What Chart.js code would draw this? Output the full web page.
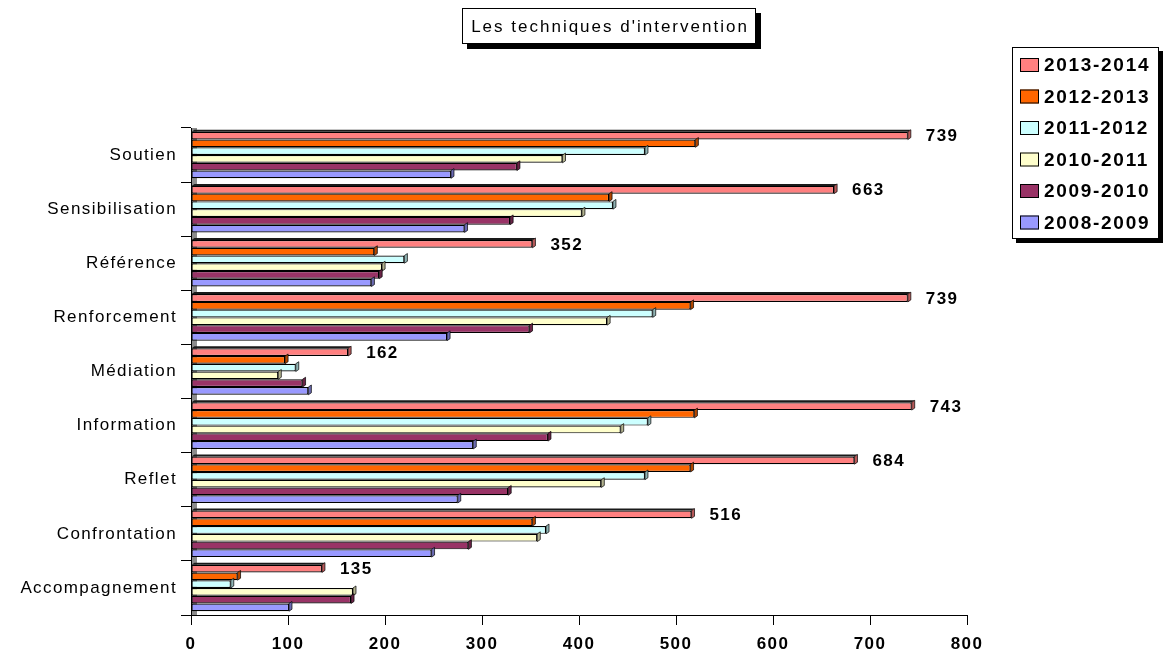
<!DOCTYPE html>
<html>
<head>
<meta charset="utf-8">
<title>Les techniques d'intervention</title>
<script src="https://cdn.jsdelivr.net/npm/chart.js@4.4.1/dist/chart.umd.min.js"></script>
<style>
  html, body { margin: 0; padding: 0; background: #ffffff; }
  #wrap { width: 1163px; height: 654px; }
</style>
</head>
<body>
<div id="wrap"><canvas id="chart" width="1163" height="654"></canvas></div>
<script>
// Data
var chartTitle = "Les techniques d'intervention";
var categories = ['Soutien', 'Sensibilisation', 'Référence', 'Renforcement', 'Médiation',
                  'Information', 'Reflet', 'Confrontation', 'Accompagnement'];
var seasons = ['2013-2014', '2012-2013', '2011-2012', '2010-2011', '2009-2010', '2008-2009'];
var v2013 = [739, 663, 352, 739, 162, 743, 684, 516, 135];
var v2012 = [520, 431, 189, 515, 97, 519, 515, 352, 48];
var v2011 = [468, 435, 220, 476, 108, 471, 468, 366, 41];
var v2010 = [383, 403, 197, 429, 90, 443, 423, 357, 167];
var v2009 = [336, 329, 194, 349, 115, 368, 327, 286, 165];
var v2008 = [268, 282, 186, 264, 121, 291, 275, 248, 101];
var xTicks = [0, 100, 200, 300, 400, 500, 600, 700, 800];

(function () {
  'use strict';

  var font = "'Liberation Sans', Arial, sans-serif";
  var fills = ['#ff8080', '#ff6600', '#ccffff', '#ffffcc', '#993366', '#9999ff'];
  var sides = ['#b85a5a', '#b34700', '#8fb3b3', '#b3b38f', '#6b2447', '#6b6bb3'];
  var series = [v2013, v2012, v2011, v2010, v2009, v2008];

  var datasets = series.map(function (vals, i) {
    return {
      label: seasons[i],
      data: vals,
      backgroundColor: fills[i],
      borderColor: '#000000',
      borderWidth: 1.2,
      borderSkipped: false,
      categoryPercentage: 0.86,
      barPercentage: 1
    };
  });

  // canvas resets on resize, so put the spacing back before layout and draw
  var spacing = {
    id: 'spacing',
    beforeUpdate: function (c) { c.ctx.letterSpacing = '1.4px'; },
    beforeDraw: function (c) { c.ctx.letterSpacing = '1.4px'; }
  };

  // grey 3D wall behind the bars
  var wall = {
    id: 'wall',
    beforeDatasetsDraw: function (c) {
      var a = c.chartArea, ctx = c.ctx;
      ctx.save();
      ctx.fillStyle = '#8c8c8c';
      ctx.fillRect(a.left + 1, a.top, 5, a.bottom - a.top);
      ctx.fillStyle = '#ffffff';
      ctx.fillRect(a.left + 6, a.top, 1, a.bottom - a.top);
      ctx.restore();
    }
  };

  // end faces of the bars, top face of each group, value labels for the first season
  var ends = {
    id: 'ends',
    afterDatasetsDraw: function (c) {
      var ctx = c.ctx;
      ctx.save();
      c.data.datasets.forEach(function (ds, di) {
        c.getDatasetMeta(di).data.forEach(function (bar) {
          var p = bar.getProps(['x', 'y', 'base', 'height'], true);
          var top = p.y - p.height / 2, bot = p.y + p.height / 2;
          if (di === 0) {
            ctx.beginPath();
            ctx.moveTo(p.base, top);
            ctx.lineTo(p.base + 3, top - 2);
            ctx.lineTo(p.x + 3, top - 2);
            ctx.lineTo(p.x, top);
            ctx.closePath();
            ctx.fillStyle = '#1a1a1a';
            ctx.fill();
          }
          ctx.beginPath();
          ctx.moveTo(p.x, top);
          ctx.lineTo(p.x + 3, top - 2);
          ctx.lineTo(p.x + 3, bot - 2);
          ctx.lineTo(p.x, bot);
          ctx.closePath();
          ctx.fillStyle = sides[di];
          ctx.fill();
          ctx.lineWidth = 0.7;
          ctx.strokeStyle = '#000000';
          ctx.stroke();
        });
      });
      ctx.fillStyle = '#000000';
      ctx.font = 'bold 17px ' + font;
      ctx.letterSpacing = '1.4px';
      ctx.textAlign = 'left';
      ctx.textBaseline = 'middle';
      c.getDatasetMeta(0).data.forEach(function (bar, i) {
        ctx.fillText(String(c.data.datasets[0].data[i]), bar.x + 18, bar.y + 1);
      });
      ctx.restore();
    }
  };

  function shadowBox(ctx, x, y, w, h, off) {
    ctx.fillStyle = '#000000';
    ctx.fillRect(x + off, y + off, w, h);
    ctx.fillStyle = '#ffffff';
    ctx.fillRect(x, y, w, h);
    ctx.lineWidth = 1;
    ctx.strokeStyle = '#000000';
    ctx.strokeRect(x + 0.5, y + 0.5, w - 1, h - 1);
  }

  // boxed title and boxed legend, Excel style
  var frames = {
    id: 'frames',
    afterDraw: function (c) {
      var ctx = c.ctx;
      ctx.save();
      shadowBox(ctx, 462, 8, 294, 36, 5);
      ctx.fillStyle = '#000000';
      ctx.font = '17px ' + font;
      ctx.letterSpacing = '2px';
      ctx.textAlign = 'center';
      ctx.textBaseline = 'middle';
      ctx.fillText(chartTitle, 610, 27);

      shadowBox(ctx, 1012, 47, 147, 192, 4);
      ctx.font = 'bold 19px ' + font;
      ctx.letterSpacing = '1.7px';
      ctx.textAlign = 'left';
      c.data.datasets.forEach(function (ds, i) {
        var cy = 65 + i * 31.5;
        ctx.fillStyle = ds.backgroundColor;
        ctx.fillRect(1020, cy - 7, 19, 14);
        ctx.strokeStyle = '#000000';
        ctx.lineWidth = 1;
        ctx.strokeRect(1020.5, cy - 6.5, 18, 13);
        ctx.fillStyle = '#000000';
        ctx.fillText(ds.label, 1044, cy + 1);
      });
      ctx.restore();
    }
  };

  new Chart(document.getElementById('chart'), {
    type: 'bar',
    data: { labels: categories, datasets: datasets },
    plugins: [spacing, wall, ends, frames],
    options: {
      indexAxis: 'y',
      responsive: false,
      animation: false,
      layout: { padding: { top: 128, right: 196, left: 0, bottom: 0 } },
      plugins: {
        legend: { display: false },
        title: { display: false },
        tooltip: { enabled: false }
      },
      scales: {
        x: {
          min: 0,
          max: 800,
          afterBuildTicks: function (s) {
            s.ticks = xTicks.map(function (v) { return { value: v }; });
          },
          afterFit: function (s) { s.height = 39; },
          ticks: {
            color: '#000000',
            font: { family: font, size: 17, weight: 'bold' },
            padding: 9,
            maxRotation: 0
          },
          grid: { drawOnChartArea: false, color: '#000000', tickLength: 10 },
          border: { color: '#000000', width: 1 }
        },
        y: {
          afterFit: function (s) { s.width = 191; },
          ticks: {
            color: '#000000',
            font: { family: font, size: 17 },
            padding: 4
          },
          grid: { drawOnChartArea: false, color: '#000000', tickLength: 10, offset: true },
          border: { color: '#000000', width: 1 }
        }
      }
    }
  });
})();
</script>
</body>
</html>
